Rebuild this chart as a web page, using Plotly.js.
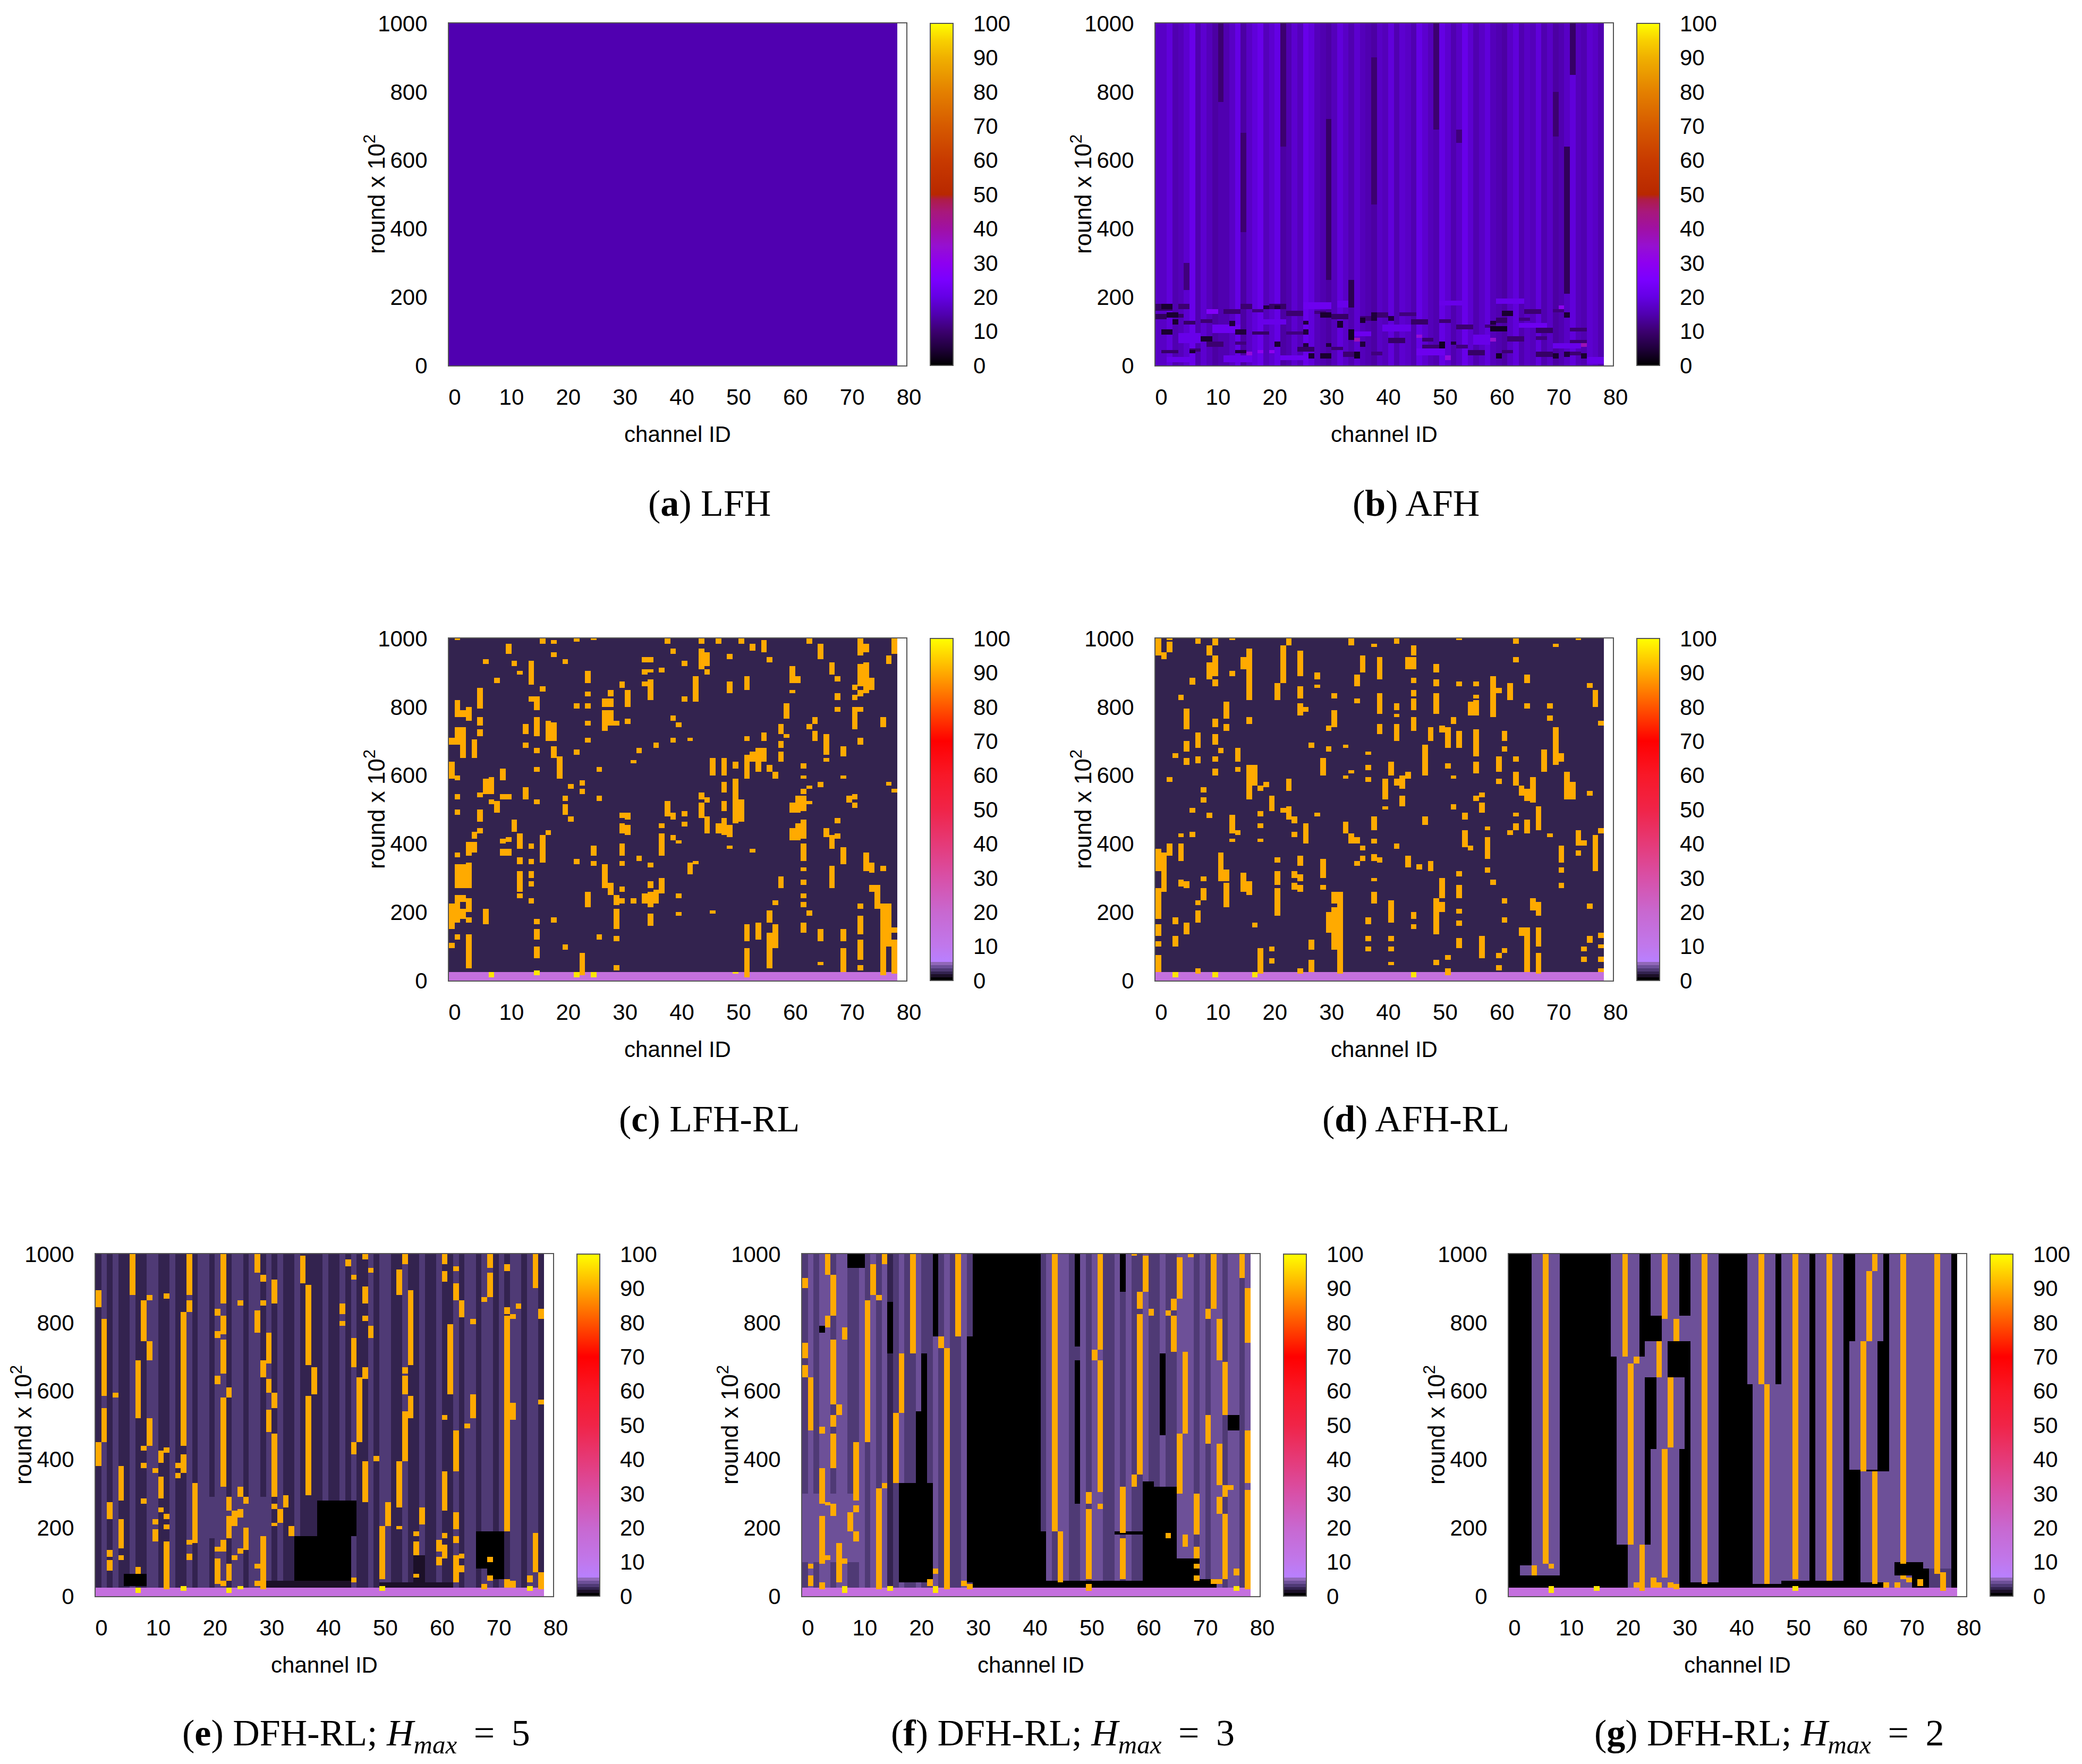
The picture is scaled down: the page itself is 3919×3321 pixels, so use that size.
<!DOCTYPE html>
<html>
<head>
<meta charset="utf-8">
<script src="https://cdn.plot.ly/plotly-3.0.1.min.js"></script>
<style>html,body{margin:0;padding:0;background:#fff}</style>
</head>
<body>
<div id="graph"></div>
<script>
// backgrounds are estimated per channel / per region, the per-round noise of the original is not reproduced
const xTicks = [0, 10, 20, 30, 40, 50, 60, 70, 80]
const yTicks = [0, 200, 400, 600, 800, 1000]
const barTicks = [0, 10, 20, 30, 40, 50, 60, 70, 80, 90, 100]

const paletteViolet = [
  [0, '#000000'], [0.05, '#20003c'], [0.10, '#3c0070'], [0.15, '#5000b0'], [0.20, '#6400e4'], [0.25, '#7a00ff'],
  [0.30, '#8e00f0'], [0.35, '#9610d0'], [0.40, '#a010a4'], [0.45, '#a8187a'], [0.485, '#ae1c48'], [0.50, '#b82800'],
  [0.60, '#c83a00'], [0.70, '#d65a00'], [0.80, '#e48000'], [0.90, '#f0b000'], [0.95, '#f8d000'], [1, '#ffff00']
]
const palettePastel = [
  [0, '#000000'], [0.009, '#000000'], [0.009, '#1c1028'], [0.018, '#1c1028'], [0.018, '#33234f'], [0.027, '#33234f'],
  [0.027, '#4f3a75'], [0.036, '#4f3a75'], [0.036, '#6d5098'], [0.045, '#6d5098'], [0.045, '#9068b8'], [0.054, '#9068b8'],
  [0.054, '#b880ff'], [0.10, '#c078ec'], [0.20, '#c868d0'], [0.30, '#d850a8'], [0.40, '#e53a78'], [0.50, '#f02448'],
  [0.60, '#f81828'], [0.70, '#ff0000'], [0.80, '#ff5500'], [0.90, '#ffaa00'], [1, '#ffff00']
]

// per channel background levels
const baseAFH = [17,17,19,15,16,18,21,15,18,16, 14,15,15,17,20,14,17,19,21,16, 18,20,14,15,18,16,21,19,16,15,
  14,16,19,17,15,18,16,15,14,17, 16,19,15,18,17,15,20,18,16,15, 20,18,15,17,21,18,15,17,19,16,
  15,14,17,19,15,17,16,19,15,17, 14,15,17,19,16,15,18,17,15]
const baseDFH5 = [2.5,3,2.5,3,2.5,2.5,3,2.5,2.5,3, 3,2.5,2.5,3,2.5,2.5,3,2.5,3,3, 2.5,3,3,2.5,3,3,2.5,3,3,2.5,
  3,2.5,3,2.5,2.5,3,2.5,2.5,2.5,2.5, 3,2.5,2.5,3,2.5,3,2.5,2.5,3,2.5, 3,3,2.5,2.5,3,2.5,2.5,3,2.5,2.5,
  3,2.5,2.5,3,2.5,3,3,2.5,3,3, 2.5,3,2.5,3,3,2.5,3,3,2.5]
const baseDFH3 = [3.2,3.7,3.2,3.7,3.7,3.2,3.7,3.7,3.2,3.2, 3.7,3.2,3.7,3.2,3.7,2.5,3.2,3.7,3.2,3.2, 3.7,3.2,3.2,3.7,3.2,3.7,3.2,3.2,3.7,3.2,
  0.4,0.4,0.4,0.4,0.4,0.4,0.4,0.4,0.4,0.4, 0.4,0.4,3.2,3.7,3.2,3.7,3.7,3.2,3.2,3.7, 3.2,3.7,3.7,3.2,3.2,3.7,3.2,3.7,3.2,3.2,
  3.7,3.2,3.2,3.7,3.2,3.2,3.7,3.7,3.7,3.2, 3.7,3.2,3.7,3.7,3.2,3.7,3.7,3.2,3.7]
const baseDFH2 = 0.3

// darker and lighter blocks: [first channel, last channel, round from, round to, level]
const blocksAFH = [
  [0,2,160,178,9],[4,5,165,178,10],[0,1,135,150,8],[3,4,140,150,9],[5,6,120,130,9],[8,9,125,135,10],[12,14,150,165,10],[17,18,155,165,11],[15,16,165,178,10],[20,22,165,178,9],
  [23,25,145,160,10],[28,29,150,160,11],[31,33,135,150,9],[36,37,130,145,10],[39,40,140,155,10],[43,45,145,155,11],[45,47,120,135,9],[50,51,125,135,10],[53,55,105,120,10],[58,59,110,120,11],
  [60,61,125,140,9],[64,65,130,140,11],[65,67,150,165,10],[70,71,155,165,11],[67,69,95,110,9],[73,75,100,110,10],
  [1,3,35,45,9],[6,7,40,48,10],[9,11,55,70,10],[14,15,60,70,11],[17,19,90,100,9],[23,25,90,100,11],[25,27,40,55,9],[31,32,45,55,10],[33,35,25,38,10],[38,39,30,38,11],
  [41,43,65,80,9],[47,48,70,80,10],[47,49,50,60,10],[53,54,50,60,11],[55,57,30,45,9],[61,62,35,45,10],[62,64,70,85,10],[67,68,75,85,11],[67,69,25,40,9],[73,74,30,40,10],[73,75,60,75,10],
  [4,7,65,95,21],[10,14,95,120,22],[18,22,120,135,21],[26,30,165,185,22],[34,37,85,100,22],[40,44,100,120,21],[46,50,30,48,22],[56,58,60,90,21],[64,68,110,125,22],[70,74,50,65,21],
  [2,5,10,25,21],[12,16,10,28,21],[22,26,15,30,22],[32,34,170,190,21],[50,54,175,190,21],[60,64,180,195,21],[76,78,5,25,21],
  [11,11,770,1000,10],[22,22,640,1000,10],[30,30,250,720,9],[15,15,390,680,10],[38,38,470,900,10],[49,49,690,1000,10],[53,53,650,690,11],
  [70,70,670,800,10],[72,72,210,640,8],[73,73,850,1000,9],[34,34,170,250,7],[5,5,220,300,11],
  [27,27,20,35,4],[29,30,20,35,4],[35,35,20,40,3],[60,60,20,35,3],[70,70,20,35,4],[72,72,25,40,5],[75,75,20,35,4],
  [6,6,35,45,4],[14,15,35,45,5],[21,21,55,70,4],[26,26,55,65,5],[30,30,55,65,5],[36,36,55,70,5],[50,50,50,70,3],[52,52,60,70,5],
  [8,9,70,85,4],[34,34,75,105,3],[1,2,90,105,4],[14,15,90,105,5],[26,26,90,105,5],[59,61,100,115,3],
  [3,3,120,135,4],[13,13,115,130,5],[26,26,120,130,5],[32,32,110,130,4],[36,36,125,140,4],[38,38,130,150,5],[41,41,130,145,5],[59,59,120,130,5],
  [2,3,140,155,4],[29,30,140,155,4],[38,38,140,155,5],[61,62,145,160,4],[72,72,140,155,4],[1,2,165,180,4],[19,19,165,175,5],[21,21,165,175,5],
  [9,10,150,165,27],[20,20,35,45,30],[18,18,35,45,30],[16,16,30,40,33],[35,35,70,80,38],[46,46,80,90,34],[59,59,70,80,35],[75,75,55,65,38],[71,71,165,175,30],[51,51,15,30,33]
]
const blocksDFH5 = [
  [35,44,25,175,0.4],[39,45,175,280,0.4],[5,8,30,65,0.4],[67,71,80,190,0.5],[69,71,50,80,0.5],[56,57,40,120,1],[30,44,22,45,1],[50,62,22,40,1],[20,30,170,290,3.4]
]
const blocksDFH3 = [
  [29,30,40,760,0.4],[42,42,40,190,0.4],[17,22,40,330,0.4],[20,21,330,540,0.4],[21,21,540,710,0.4],[23,23,760,1000,0.8],
  [48,48,730,1000,0.8],[48,48,270,690,0.8],[60,65,40,320,0.4],[60,61,320,335,0.4],[55,59,180,190,0.4],[66,69,50,110,0.4],
  [8,10,960,1000,0.8],[3,3,770,790,0.8],[15,15,710,860,0.8],[63,63,470,710,0.8],[75,76,485,530,0.6],[56,56,890,1000,0.8],
  [42,60,22,45,0.5],[60,72,22,50,0.5],[0,3,100,300,4],[5,6,100,300,4],[8,10,100,300,4],[12,13,100,300,4]
]
const blocksDFH2 = [
  [4,8,90,1000,4.4],[2,8,60,90,4],[18,22,700,1000,4.4],[19,23,150,700,4.4],[21,29,25,150,4.4],
  [25,29,820,1000,4.4],[27,31,745,820,4.4],[24,27,640,745,4.4],[26,30,430,640,4.4],[23,23,430,640,4.4],[25,29,50,430,4.4],
  [32,36,40,1000,4.4],[42,46,620,1000,4.4],[43,47,35,620,4.4],[48,52,45,1000,4.4],[54,58,45,1000,4.4],
  [61,65,745,1000,4.4],[60,64,370,745,4.4],[62,67,40,365,4.4],[67,72,100,1000,4.4],[66,70,25,60,3.6],[73,77,80,1000,4.4],[74,77,25,80,3.4],
  [68,72,60,100,0.3]
]

// orange runs: [channel, round from, round to]
const hotLFHRL = [
  [1,995,1000],[0,590,640],[0,690,710],[0,150,225],[0,95,110],[1,771,820],[1,690,740],[1,530,545],[1,485,500],[1,585,600],[1,360,375],[1,170,250],[1,120,135],[1,270,340],
  [2,770,790],[2,650,740],[2,230,250],[2,270,340],[2,180,210],[3,760,800],[3,200,240],[3,270,345],[3,35,135],[3,365,405],[3,170,185],[4,650,705],[4,375,405],[4,415,435],
  [5,795,855],[5,745,770],[5,715,735],[5,465,500],[5,535,550],[5,430,445],[6,925,940],[6,165,210],[6,545,590],[7,545,595],[7,12,25],[7,515,530],[8,870,885],[8,490,525],
  [9,587,620],[9,530,545],[9,365,385],[9,400,415],[10,953,985],[10,530,545],[10,365,385],[10,405,420],[11,920,935],[11,435,470],[12,895,905],[12,385,430],[12,340,360],[12,260,320],[12,240,255],
  [13,720,750],[13,680,695],[13,530,565],[14,865,935],[14,815,830],[14,385,400],[14,340,355],[14,300,320],[14,275,290],[14,225,240],
  [15,790,830],[15,715,770],[15,665,680],[15,610,625],[15,515,530],[15,165,180],[15,120,150],[15,65,100],[15,15,30],[16,845,860],[16,985,1000],[16,345,425],
  [17,425,440],[17,700,760],[18,700,755],[18,650,685],[18,170,185],[18,985,995],[18,945,960],[19,590,655],[20,925,940],[20,525,540],[20,485,515],[20,90,105],
  [21,560,575],[21,465,480],[22,990,1000],[22,340,355],[22,660,675],[22,795,810],[22,10,25],[23,15,80],[23,570,585],[23,545,560],
  [24,868,903],[24,830,845],[24,795,810],[24,745,760],[24,695,710],[24,215,260],[25,995,1000],[25,10,25],[25,365,395],[25,335,350],[26,610,625],[26,525,540],[26,120,135],
  [27,800,825],[27,745,790],[27,730,745],[27,270,340],[28,250,285],[28,830,850],[28,745,790],[28,800,825],[29,745,760],[29,150,210],[29,115,130],[29,30,45],[29,220,250],
  [30,855,875],[30,225,240],[30,260,275],[30,335,350],[30,365,400],[30,430,460],[30,475,490],[31,800,850],[31,750,765],[31,470,490],[31,425,455],[32,635,645],[32,225,240],[33,665,680],[33,350,365],
  [34,930,945],[34,895,910],[34,860,875],[34,225,255],[35,820,880],[35,930,945],[35,900,910],[35,270,290],[35,330,345],[35,160,195],[35,215,260],[36,680,695],[36,225,265],[37,365,430],[37,445,460],[37,900,915],[37,255,300],
  [38,985,1000],[38,480,525],[39,955,970],[39,695,710],[39,760,775],[39,470,490],[39,410,425],[40,740,755],[40,400,410],[40,190,200],[40,240,255],[41,815,830],[41,920,935],[41,480,495],[41,450,465],
  [42,700,710],[42,310,345],[43,815,890],[43,340,350],[44,910,970],[44,985,1000],[44,530,550],[44,475,520],[45,920,960],[45,895,910],[45,430,480],[45,520,535],[46,600,650],[46,195,205],[47,985,1000],[47,430,460],
  [48,600,650],[48,550,580],[48,495,525],[48,460,475],[48,425,460],[49,840,875],[49,420,455],[49,385,395],[49,940,955],[50,460,590],[50,620,640],[50,20,25],[51,465,530],[51,985,1000],
  [52,850,890],[52,700,715],[52,590,660],[52,10,95],[52,115,165],[53,965,985],[53,640,670],[53,375,385],[54,120,170],[54,610,680],[55,960,995],[55,700,725],[55,640,680],[56,930,945],[56,170,205],[56,35,140],[56,610,630],
  [57,95,165],[57,590,610],[57,220,235],[58,720,750],[58,680,700],[58,640,670],[58,270,305],[59,765,810],[59,710,720],[60,870,920],[60,840,850],[60,490,520],[60,410,445],[61,870,890],[61,490,540],[61,410,460],
  [62,620,635],[62,590,600],[62,545,560],[62,495,540],[62,415,470],[62,350,400],[62,320,330],[62,280,295],[62,240,255],[62,215,230],[62,140,170],[63,560,570],[63,515,525],[63,985,1000],[63,735,750],[63,190,205],
  [64,700,730],[64,750,770],[65,940,985],[65,115,150],[65,45,55],[65,565,580],[66,660,720],[66,640,650],[66,420,445],[67,895,930],[67,270,335],[67,385,425],[68,875,890],[68,820,840],[68,785,800],[68,460,475],[68,415,430],
  [69,655,685],[69,590,600],[69,340,390],[69,115,150],[69,25,95],[70,520,540],[71,850,865],[71,820,835],[71,735,800],[71,505,520],[71,530,545],
  [72,950,1000],[72,860,925],[72,830,850],[72,785,800],[72,690,710],[72,135,190],[72,60,120],[72,30,45],[72,210,225],[73,840,930],[73,960,985],[73,320,375],[74,850,885],[74,315,345],[74,260,280],
  [75,210,280],[76,740,770],[76,320,335],[76,15,225],[77,100,225],[77,925,950],[77,570,580],[78,955,1000],[78,550,560],[78,20,120],[78,140,155]
]
const hotAFHRL = [
  [0,25,75],[0,100,115],[0,130,165],[0,180,270],[0,320,385],[0,950,1000],[1,940,960],[1,260,375],[2,960,990],[2,995,1000],[2,365,400],[2,580,595],[3,10,25],[3,100,130],[3,165,185],[3,650,665],
  [4,820,835],[4,350,400],[4,420,430],[4,275,295],[5,735,795],[5,670,700],[5,630,650],[5,270,290],[5,135,170],[6,865,885],[6,420,435],[6,490,505],[7,985,1000],[7,680,725],[7,635,655],[7,170,205],[7,220,235],[7,20,35],
  [8,290,305],[8,235,270],[8,520,535],[8,550,565],[9,950,980],[9,880,930],[9,475,490],[10,860,880],[10,890,950],[10,980,1000],[10,740,765],[10,690,720],[10,640,655],[10,600,620],[10,10,25],
  [11,665,680],[11,290,375],[12,290,325],[12,215,285],[12,765,815],[12,730,750],[13,995,1000],[13,890,905],[13,430,485],[13,405,415],[14,640,680],[14,610,625],[14,425,440],[15,910,945],[15,260,315],
  [16,820,970],[16,750,770],[16,530,630],[16,250,290],[17,570,630],[17,155,170],[17,10,25],[18,555,570],[18,20,95],[18,480,495],[18,445,460],[18,405,415],[19,565,580],[20,495,540],[20,50,65],[20,85,100],
  [21,820,870],[21,190,270],[21,280,320],[21,345,360],[22,870,980],[22,490,505],[23,555,590],[23,470,510],[23,980,1000],[24,460,480],[24,420,435],[24,300,320],[24,265,285],
  [25,890,965],[25,825,860],[25,775,810],[25,335,365],[25,290,310],[25,260,280],[25,20,35],[26,785,800],[26,400,460],[27,25,60],[27,90,120],[27,680,695],[28,880,900],[28,855,865],[28,480,490],
  [29,600,650],[29,300,355],[29,265,280],[30,730,745],[30,670,685],[30,140,200],[31,740,790],[31,825,840],[31,90,215],[31,225,260],[32,20,260],[33,590,600],[33,680,690],[33,430,465],[34,980,1000],[34,605,615],[34,400,430],
  [35,860,895],[35,810,825],[35,400,420],[35,335,350],[36,900,950],[36,350,365],[36,380,395],[37,660,670],[37,615,630],[37,580,595],[37,165,185],[37,85,100],[37,115,130],
  [38,975,985],[38,440,480],[38,400,415],[38,350,370],[38,225,260],[38,290,300],[39,880,945],[39,720,750],[39,780,840],[39,345,360],[40,530,590],[40,500,510],
  [41,600,640],[41,170,235],[41,115,130],[41,85,100],[41,45,55],[42,985,1000],[42,700,750],[42,770,780],[42,790,810],[42,570,590],[42,385,400],[43,560,600],[43,510,540],
  [44,910,945],[44,330,365],[44,590,610],[45,950,980],[45,910,945],[45,870,885],[45,830,850],[45,790,825],[45,730,770],[45,180,200],[45,150,165],[45,10,25],[46,325,340],
  [47,600,690],[47,455,480],[48,700,740],[48,320,350],[49,900,925],[49,860,880],[49,780,840],[49,135,240],[49,45,60],[50,725,745],[50,240,300],[50,200,230],[51,680,740],[51,620,635],[51,15,35],[51,60,75],
  [52,750,770],[52,590,600],[52,500,515],[53,995,1000],[53,860,875],[53,680,730],[53,305,320],[53,240,280],[53,195,210],[53,160,175],[53,95,125],[54,390,440],[54,470,490],
  [55,775,815],[55,380,395],[56,775,820],[56,655,735],[56,605,640],[56,860,875],[56,825,835],[56,525,540],[57,490,520],[57,535,550],[57,65,130],[58,315,330],[58,355,420],[58,440,450],
  [59,280,295],[59,770,890],[60,840,855],[60,610,655],[60,575,590],[60,30,45],[60,65,80],[61,670,685],[61,700,730],[61,225,240],[61,170,185],[61,80,95],[62,820,870],[62,425,440],
  [63,985,1000],[63,930,945],[63,640,655],[63,570,610],[63,480,490],[63,440,460],[64,540,570],[64,130,155],[65,795,810],[65,870,895],[65,430,470],[65,525,560],[65,25,155],[66,520,595],[66,205,240],
  [67,440,510],[67,190,230],[67,20,80],[67,100,155],[68,610,675],[69,795,810],[69,760,775],[69,420,430],[70,975,985],[70,630,740],[71,640,665],[71,270,285],[71,315,330],[71,345,395],
  [72,530,610],[73,530,580],[74,995,1000],[74,395,440],[74,365,380],[75,395,410],[75,55,70],[75,85,100],[76,540,555],[76,855,870],[76,110,130],[76,210,225],
  [77,800,850],[77,320,425],[78,745,760],[78,430,445],[78,25,35],[78,55,70],[78,95,105],[78,125,140]
]
const hotDFH5 = [
  [0,380,450],[0,845,895],[1,587,810],[1,449,552],[2,225,275],[2,115,135],[2,75,105],[3,580,595],[4,280,380],[4,140,225],[4,105,120],[6,880,1000],[7,520,690],[7,10,25],[7,65,85],
  [8,745,865],[8,425,440],[8,375,390],[8,270,285],[9,690,745],[9,440,520],[9,865,880],[10,360,375],[10,210,225],[10,160,195],[11,285,350],[11,245,260],[11,390,425],
  [12,870,885],[12,420,435],[12,225,240],[12,195,210],[12,20,160],[14,375,390],[14,345,360],[15,440,830],[15,360,415],[15,15,30],[16,880,1000],[16,830,865],[16,150,165],[16,105,125],[17,155,330],
  [21,35,110],[21,130,145],[21,620,645],[21,755,775],[21,820,840],[22,855,998],[22,767,818],[22,648,752],[22,322,580],[22,132,166],[22,30,45],[23,580,612],[23,252,290],[23,170,235],[23,43,97],[23,10,24],
  [24,105,120],[24,205,250],[25,290,320],[25,230,255],[25,20,30],[25,125,140],[25,850,865],[26,135,200],[26,270,290],[28,944,998],[28,772,835],[28,80,97],[28,28,43],
  [29,920,940],[29,850,865],[29,640,690],[29,20,50],[29,50,175],[30,680,770],[30,597,633],[30,478,545],[31,855,924],[31,550,597],[31,290,476],[31,255,270],[31,205,215],[32,215,255],[33,260,295],[34,175,205],
  [36,915,995],[37,673,912],[37,294,586],[38,590,670],[43,825,855],[43,790,805],[44,965,985],[45,670,755],[45,925,940],[45,415,450],[45,40,55],[46,450,640],
  [47,275,395],[47,635,668],[47,855,905],[47,805,820],[47,985,1000],[48,755,790],[48,945,960],[49,395,410],[50,50,205],[50,15,30],[51,205,275],[53,260,395],[53,195,205],[53,880,955],
  [54,395,540],[54,590,645],[54,650,670],[54,970,1000],[55,673,895],[55,519,586],[56,175,190],[56,120,160],[56,55,65],[57,210,260],[60,90,115],[60,130,165],
  [61,920,950],[61,970,1000],[61,515,530],[61,250,365],[61,170,185],[61,110,150],[62,590,795],[63,948,966],[63,865,914],[63,363,486],[63,193,245],[63,157,176],[63,38,122],[64,815,865],[64,110,125],[64,70,90],
  [65,490,505],[66,520,590],[66,795,810],[68,20,35],[68,860,875],[69,960,998],[69,875,944],[69,100,117],[69,45,60],[72,190,820],[72,25,50],[72,825,845],[72,950,970],[73,515,565],[73,810,825],[73,25,45],[74,840,855],
  [76,15,30],[76,40,60],[77,70,185],[77,900,1000],[78,20,70],[78,810,840],[78,560,575]
]
const hotDFH3 = [
  [0,900,930],[0,693,742],[0,639,673],[1,484,639],[1,78,97],[1,29,60],[3,476,494],[3,270,373],[3,97,235],[3,22,38],[4,941,998],[4,786,820],[4,263,275],[4,107,122],
  [5,820,941],[5,560,752],[5,494,528],[5,373,476],[5,235,270],[6,528,560],[6,38,156],[7,752,786],[7,97,112],[7,11,29],[8,190,245],[9,280,452],[9,245,263],[9,158,190],
  [11,452,865],[12,880,968],[13,865,880],[13,22,314],[14,968,998],[14,314,331],[15,14,28],[16,332,537],[17,537,710],[19,710,998],[22,28,48],[23,63,78],[23,12,28],[24,727,760],[25,22,727],[27,760,998],
  [28,28,43],[29,19,35],[44,190,998],[45,38,190],[50,272,307],[50,50,257],[50,17,33],[51,688,720],[52,722,998],[52,307,688],[52,257,272],[56,184,322],[56,48,168],[58,322,356],[58,995,1000],
  [59,839,892],[59,356,823],[60,892,993],[61,821,839],[64,818,834],[64,168,183],[65,834,868],[65,713,818],[66,870,990],[66,302,474],[67,474,713],[67,147,181],
  [68,990,998],[69,181,302],[69,112,147],[69,78,95],[69,45,60],[71,808,841],[71,447,530],[72,841,998],[72,33,48],[73,688,808],[73,324,445],[73,238,289],[73,33,48],[74,530,686],[74,289,324],[74,48,238],[75,312,327],
  [76,60,78],[76,14,30],[77,931,998],[78,742,898],[78,329,483],[78,19,312]
]
const hotDFH2 = [
  [4,60,90],[6,95,1000],[7,80,95],[7,10,30],[15,15,30],[20,700,1000],[21,150,680],[22,680,700],[22,25,40],[23,15,150],[25,25,55],[26,640,745],[26,25,40],
  [27,810,1000],[27,55,430],[28,435,640],[28,25,40],[29,745,810],[29,20,35],[34,35,1000],[44,620,1000],[45,35,620],[50,50,1000],[50,15,30],[56,45,1000],
  [62,365,745],[63,745,950],[64,950,1000],[64,35,365],[66,25,40],[68,25,40],[69,95,1000],[69,50,60],[70,40,55],[72,30,50],[75,65,1000],[76,15,70]
]

const captionA = '(<b>a</b>) LFH'
const captionB = '(<b>b</b>) AFH'
const captionC = '(<b>c</b>) LFH-RL'
const captionD = '(<b>d</b>) AFH-RL'
const captionE = '(<b>e</b>) DFH-RL; <i>H</i><sub><i>max</i></sub>\u2009 = \u20095'
const captionF = '(<b>f</b>) DFH-RL; <i>H</i><sub><i>max</i></sub>\u2009 = \u20093'
const captionG = '(<b>g</b>) DFH-RL; <i>H</i><sub><i>max</i></sub>\u2009 = \u20092'

const pageW = 3919, pageH = 3321
const plotW = 861, plotH = 644
const xMax = 80.56
const channelCount = 79, rowStep = 5, rowCount = 200
const sans = 'Liberation Sans, Arial, sans-serif'
const ink = '#000000', frame = '#555555'

function buildZ(base, blocks, hot, band) {
  const z = []
  for (let i = 0; i < rowCount; i++) {
    const round = (i + 0.5) * rowStep
    const row = []
    for (let c = 0; c < channelCount; c++) {
      row.push(Array.isArray(base) ? base[c] : base)
    }
    blocks.forEach(function (b) {
      if (round >= b[2] && round <= b[3]) {
        for (let c = b[0]; c <= b[1]; c++) row[c] = b[4]
      }
    })
    if (band && round < 23) row.fill(band)
    hot.forEach(function (h) {
      if (round >= h[1] && round <= h[2]) row[h[0]] = h[2] <= 30 ? 97 : 90
    })
    z.push(row)
  }
  return z
}

const panels = [
  {left: 845, top: 44, capX: 1335, capY: 948, caption: captionA, scale: paletteViolet, z: buildZ(15, [], [], 0)},
  {left: 2175, top: 44, capX: 2665, capY: 948, caption: captionB, scale: paletteViolet, z: buildZ(baseAFH, blocksAFH, [], 0)},
  {left: 845, top: 1202, capX: 1335, capY: 2106, caption: captionC, scale: palettePastel, z: buildZ(2.3, [], hotLFHRL, 15)},
  {left: 2175, top: 1202, capX: 2665, capY: 2106, caption: captionD, scale: palettePastel, z: buildZ(2.3, [], hotAFHRL, 15)},
  {left: 180, top: 2361, capX: 670, capY: 3268, caption: captionE, scale: palettePastel, z: buildZ(baseDFH5, blocksDFH5, hotDFH5, 15)},
  {left: 1510, top: 2361, capX: 2000, capY: 3268, caption: captionF, scale: palettePastel, z: buildZ(baseDFH3, blocksDFH3, hotDFH3, 15)},
  {left: 2840, top: 2361, capX: 3330, capY: 3268, caption: captionG, scale: palettePastel, z: buildZ(baseDFH2, blocksDFH2, hotDFH2, 15)}
]

const data = []
const layout = {
  width: pageW,
  height: pageH,
  margin: {l: 0, r: 0, t: 0, b: 0},
  paper_bgcolor: '#ffffff',
  plot_bgcolor: '#ffffff',
  showlegend: false,
  annotations: []
}

panels.forEach(function (p, i) {
  const n = i === 0 ? '' : String(i + 1)
  data.push({
    type: 'heatmap',
    xaxis: 'x' + n,
    yaxis: 'y' + n,
    x0: 0.5,
    dx: 1,
    y0: rowStep / 2,
    dy: rowStep,
    z: p.z,
    zmin: 0,
    zmax: 100,
    colorscale: p.scale,
    hoverinfo: 'skip',
    colorbar: {
      x: (p.left + 906) / pageW,
      xanchor: 'left',
      y: 1 - (p.top + plotH) / pageH,
      yanchor: 'bottom',
      len: plotH / pageH,
      thickness: 43,
      xpad: 0,
      ypad: 0,
      outlinewidth: 2,
      outlinecolor: frame,
      tickmode: 'array',
      tickvals: barTicks,
      ticks: 'outside',
      ticklen: 29,
      tickcolor: 'rgba(0,0,0,0)',
      tickfont: {family: sans, size: 42, color: ink}
    }
  })
  layout['xaxis' + n] = {
    domain: [p.left / pageW, (p.left + plotW) / pageW],
    anchor: 'y' + n,
    range: [0, xMax],
    tickmode: 'array',
    tickvals: xTicks,
    ticks: '',
    ticklabelshift: 11,
    ticklabelstandoff: 22,
    tickangle: 0,
    tickfont: {family: sans, size: 42, color: ink},
    title: {text: 'channel ID', font: {family: sans, size: 42, color: ink}, standoff: 32},
    showgrid: false,
    zeroline: false,
    showline: true,
    mirror: true,
    linecolor: frame,
    linewidth: 2
  }
  layout['yaxis' + n] = {
    domain: [1 - (p.top + plotH) / pageH, 1 - p.top / pageH],
    anchor: 'x' + n,
    range: [0, 1000],
    tickmode: 'array',
    tickvals: yTicks,
    ticks: '',
    ticklabelstandoff: 30,
    tickfont: {family: sans, size: 42, color: ink},
    showgrid: false,
    zeroline: false,
    showline: true,
    mirror: true,
    linecolor: frame,
    linewidth: 2
  }
  layout.annotations.push({
    text: 'round x 10<sup>2</sup>',
    xref: 'paper',
    yref: 'paper',
    x: (p.left - 140) / pageW,
    y: 1 - (p.top + plotH / 2) / pageH,
    xanchor: 'center',
    yanchor: 'middle',
    textangle: -90,
    showarrow: false,
    font: {family: sans, size: 44, color: ink}
  })
  layout.annotations.push({
    text: p.caption,
    xref: 'paper',
    yref: 'paper',
    x: p.capX / pageW,
    y: 1 - p.capY / pageH,
    xanchor: 'center',
    yanchor: 'middle',
    showarrow: false,
    font: {family: 'Liberation Serif, serif', size: 70, color: ink}
  })
})

Plotly.newPlot('graph', data, layout, {displayModeBar: false})
</script>
</body>
</html>
